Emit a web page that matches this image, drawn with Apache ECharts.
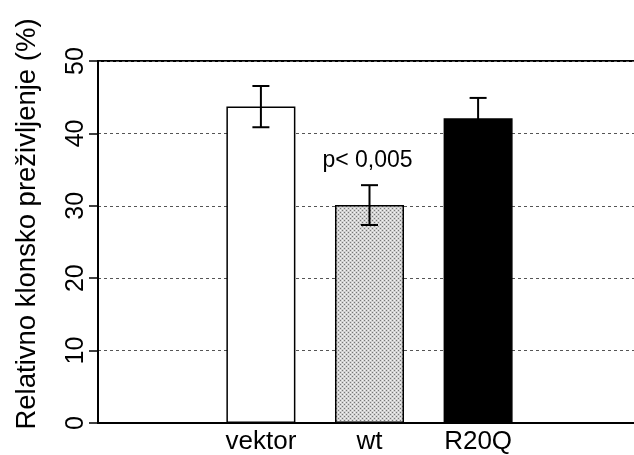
<!DOCTYPE html>
<html><head><meta charset="utf-8">
<script src="https://cdn.jsdelivr.net/npm/echarts@6/dist/echarts.min.js"></script>
<style>html,body{margin:0;padding:0;background:#fff}#c{width:634px;height:455px}</style>
</head><body><div id="c"></div>
<script>
// ---- data ----
const categories = ['', 'vektor', 'wt', 'R20Q', ''];
const values = [null, 43.7, 30.1, 42.1, null];
const errors = [null, 2.85, 2.75, 2.8, null];
const yMin = 0, yMax = 50, yStep = 10;
const yAxisTitle = 'Relativno klonsko preživljenje (%)';
const noteText = 'p< 0,005';
const notePos = ['wt', 36.3];

// ---- styles ----
const FONT = 'Liberation Sans, Arial, Helvetica, sans-serif';
const pc = document.createElement('canvas'); pc.width = 4; pc.height = 4;
const g = pc.getContext('2d');
g.fillStyle = '#d2d2d2'; g.fillRect(0, 0, 4, 4);
g.fillStyle = '#777'; g.fillRect(0, 0, 1, 1); g.fillRect(2, 2, 1, 1);
g.fillStyle = '#f4f4f4'; g.fillRect(2, 0, 1, 1); g.fillRect(0, 2, 1, 1);
const fills = [null, '#ffffff', {image: pc, repeat: 'repeat'}, '#000000', null];

const chart = echarts.init(document.getElementById('c'), null, {renderer: 'canvas'});
const barData = values.map((v, i) => v == null ? null : {
  value: v,
  itemStyle: {color: fills[i], borderColor: '#000', borderWidth: 1.5}
});
const errData = values.map((v, i) => v == null ? null : [i, v - errors[i], v + errors[i]]).filter(d => d);

chart.setOption({
  animation: false,
  backgroundColor: '#fff',
  grid: {left: 98, width: 543, top: 61, bottom: 32, containLabel: false, outerBoundsMode: 'none',
         show: true, borderColor: '#000', borderWidth: 2, backgroundColor: 'transparent'},
  xAxis: {
    type: 'category', data: categories,
    axisLine: {lineStyle: {color: '#000', width: 2}},
    axisTick: {show: false},
    axisLabel: {color: '#000', fontSize: 26, fontFamily: FONT, margin: 6, interval: 0},
    splitLine: {show: false}
  },
  yAxis: {
    type: 'value', min: yMin, max: yMax, interval: yStep,
    name: yAxisTitle, nameLocation: 'middle', nameGap: 57,
    nameTextStyle: {color: '#000', fontSize: 27.5, fontFamily: FONT, padding: [0, 0, 0, 36]},
    axisLine: {show: true, lineStyle: {color: '#000', width: 2}},
    axisTick: {show: true, length: 9, lineStyle: {color: '#000', width: 1.5}},
    axisLabel: {color: '#000', fontSize: 25, fontFamily: FONT, rotate: 90, margin: 9},
    splitLine: {show: true, lineStyle: {color: '#555', width: 1, type: [3, 3]}}
  },
  series: [
    {type: 'bar', data: barData, barWidth: 69, z: 2},
    {
      type: 'custom', z: 5, data: errData,
      renderItem: function (params, api) {
        const x = api.value(0);
        const lo = api.coord([x, api.value(1)]);
        const hi = api.coord([x, api.value(2)]);
        const hw = 8.5;
        const st = {stroke: '#000', lineWidth: 2};
        return {type: 'group', children: [
          {type: 'line', shape: {x1: hi[0], y1: hi[1], x2: lo[0], y2: lo[1]}, style: st},
          {type: 'line', shape: {x1: hi[0] - hw, y1: hi[1], x2: hi[0] + hw, y2: hi[1]}, style: st},
          {type: 'line', shape: {x1: lo[0] - hw, y1: lo[1], x2: lo[0] + hw, y2: lo[1]}, style: st}
        ]};
      }
    },
    {
      type: 'scatter', symbolSize: 0, data: [notePos], z: 6,
      itemStyle: {opacity: 1},
      label: {show: true, position: 'inside', formatter: noteText, color: '#000', opacity: 1, fontSize: 23, fontFamily: FONT, offset: [-2, 0]}
    }
  ]
});
</script></body></html>
